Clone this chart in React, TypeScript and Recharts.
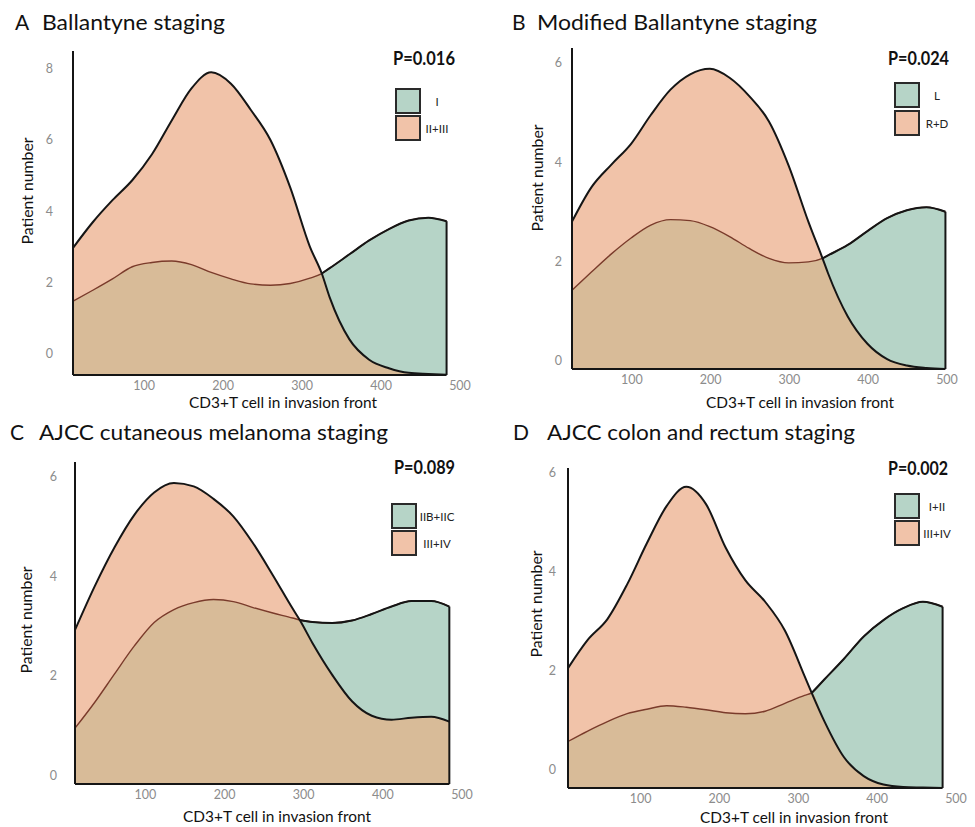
import { ComposedChart, Area, Line, XAxis, YAxis, ReferenceLine } from 'recharts'

const TEAL = '#b6d4c7'
const PEACH = '#f1c3a9'
const TAN = '#d8bb98'
const BROWN = '#7a3b2b'
const INK = '#151515'
const TICK_GRAY = '#8c8c8c'
const FONT = 'Lato, "Open Sans", sans-serif'

const X_TICKS = [100, 200, 300, 400, 500]

// A - Ballantyne staging
const xA = [10, 35, 60, 85, 110, 135, 160, 185, 210, 235, 260, 285, 310, 325, 335, 360, 385, 410, 435, 460, 483]
const peachA = [2.97, 3.69, 4.31, 4.87, 5.6, 6.55, 7.45, 7.9, 7.58, 6.85, 6.0, 4.67, 3.0, 2.25, 1.58, 0.4, -0.17, -0.41, -0.54, -0.57, -0.59]
const tealA = [1.47, 1.78, 2.1, 2.44, 2.56, 2.6, 2.5, 2.28, 2.1, 1.96, 1.92, 1.97, 2.12, 2.25, 2.4, 2.79, 3.18, 3.5, 3.74, 3.82, 3.72]
const crossA = 325
const yTicksA = [0, 2, 4, 6, 8]

// B - Modified Ballantyne staging
const xB = [24, 49, 74, 99, 124, 149, 174, 199, 224, 249, 274, 299, 324, 342, 349, 374, 399, 424, 449, 474, 498]
const peachB = [2.8, 3.5, 3.95, 4.37, 4.95, 5.46, 5.77, 5.88, 5.7, 5.33, 4.82, 3.93, 2.8, 2.06, 1.76, 0.89, 0.34, 0.03, -0.1, -0.15, -0.17]
const tealB = [1.42, 1.79, 2.15, 2.47, 2.73, 2.84, 2.82, 2.7, 2.5, 2.26, 2.06, 1.97, 1.99, 2.06, 2.12, 2.33, 2.61, 2.87, 3.03, 3.09, 3.0]
const crossB = 342
const yTicksB = [0, 2, 4, 6]

// C - AJCC cutaneous melanoma staging
const xC = [11, 36, 61, 86, 111, 136, 161, 186, 211, 236, 261, 286, 295, 311, 336, 361, 386, 411, 436, 461, 484]
const peachC = [2.92, 3.8, 4.58, 5.23, 5.68, 5.87, 5.8, 5.55, 5.2, 4.66, 4.02, 3.35, 3.12, 2.66, 2.02, 1.49, 1.2, 1.12, 1.16, 1.18, 1.08]
const tealC = [0.95, 1.47, 2.04, 2.6, 3.07, 3.33, 3.47, 3.53, 3.49, 3.37, 3.26, 3.16, 3.12, 3.08, 3.06, 3.11, 3.24, 3.39, 3.5, 3.5, 3.39]
const crossC = 295
const yTicksC = [0, 2, 4, 6]

// D - AJCC colon and rectum staging
const xD = [8, 33, 58, 83, 108, 133, 158, 183, 208, 233, 258, 283, 308, 317, 333, 358, 383, 408, 433, 458, 483]
const peachD = [2.05, 2.62, 3.04, 3.74, 4.57, 5.32, 5.71, 5.36, 4.48, 3.82, 3.39, 2.81, 1.89, 1.55, 0.98, 0.25, -0.13, -0.3, -0.35, -0.36, -0.37]
const tealD = [0.57, 0.78, 0.97, 1.13, 1.22, 1.29, 1.26, 1.21, 1.15, 1.13, 1.18, 1.34, 1.5, 1.55, 1.82, 2.24, 2.69, 3.02, 3.26, 3.39, 3.29]
const crossD = 317
const yTicksD = [0, 2, 4, 6]

const buildRows = (xs: number[], peach: number[], teal: number[], cross: number) =>
  xs.map((x, i) => ({
    x,
    peach: peach[i],
    teal: teal[i],
    // region where both densities overlap gets the mixed colour
    overlap: Math.min(peach[i], teal[i]),
    tealTop: x >= cross ? teal[i] : null,
  }))

type PanelProps = {
  left: number
  top: number
  width: number
  height: number
  marginTop: number
  marginRight: number
  yWidth: number
  xHeight: number
  xDomain: [number, number]
  yDomain: [number, number]
  yTicks: number[]
  yTickGap: number
  xs: number[]
  peach: number[]
  teal: number[]
  cross: number
}

function Panel(p: PanelProps) {
  const rows = buildRows(p.xs, p.peach, p.teal, p.cross)
  const yMin = p.yDomain[0]
  const xFirst = p.xs[0]
  const xLast = p.xs[p.xs.length - 1]
  const tealLast = p.teal[p.teal.length - 1]
  const tick = { fontSize: 12.5, fill: TICK_GRAY, fontFamily: FONT }

  return (
    <div style={{ position: 'absolute', left: p.left, top: p.top }}>
      <ComposedChart
        width={p.width}
        height={p.height}
        data={rows}
        margin={{ top: p.marginTop, right: p.marginRight, left: 0, bottom: 0 }}
      >
        <XAxis
          dataKey="x"
          type="number"
          domain={p.xDomain}
          ticks={X_TICKS}
          allowDataOverflow
          axisLine={false}
          tickLine={false}
          tickSize={0}
          tickMargin={6}
          height={p.xHeight}
          tick={tick}
        />
        <YAxis
          type="number"
          domain={p.yDomain}
          ticks={p.yTicks}
          allowDataOverflow
          width={p.yWidth}
          axisLine={{ stroke: INK, strokeWidth: 2 }}
          tickLine={false}
          tickSize={0}
          tickMargin={p.yTickGap}
          tick={tick}
        />
        <Area type="monotone" dataKey="teal" baseValue={yMin} fill={TEAL} fillOpacity={1} stroke="none" isAnimationActive={false} />
        <Area type="monotone" dataKey="peach" baseValue={yMin} fill={PEACH} fillOpacity={1} stroke="none" isAnimationActive={false} />
        <Area type="monotone" dataKey="overlap" baseValue={yMin} fill={TAN} fillOpacity={1} stroke="none" isAnimationActive={false} />
        <Line type="monotone" dataKey="teal" stroke={BROWN} strokeWidth={1.4} dot={false} isAnimationActive={false} />
        <Line type="monotone" dataKey="tealTop" stroke={INK} strokeWidth={2} dot={false} connectNulls={false} isAnimationActive={false} />
        <Line type="monotone" dataKey="peach" stroke={INK} strokeWidth={2} dot={false} isAnimationActive={false} />
        <ReferenceLine
          segment={[{ x: xFirst, y: yMin }, { x: xLast, y: yMin }]}
          stroke={INK}
          strokeWidth={2}
          ifOverflow="visible"
        />
        <ReferenceLine
          segment={[{ x: xLast, y: yMin }, { x: xLast, y: tealLast }]}
          stroke={INK}
          strokeWidth={2}
          ifOverflow="visible"
        />
      </ComposedChart>
    </div>
  )
}

type Annot = {
  letter: string
  letterX: number
  title: string
  titleX: number
  titleLen: number
  baseY: number
  yLabelX: number
  yLabelY: number
  xLabelX: number
  xLabelY: number
  pText: string
  pX: number
  pY: number
  pLen: number
  boxX: number
  boxY1: number
  boxY2: number
  labelX: number
  labels: [string, string]
}

const annots: Annot[] = [
  {
    letter: 'A', letterX: 15, title: 'Ballantyne staging', titleX: 42, titleLen: 183, baseY: 30,
    yLabelX: 33, yLabelY: 191, xLabelX: 283, xLabelY: 408,
    pText: 'P=0.016', pX: 393, pY: 65, pLen: 62,
    boxX: 396, boxY1: 89, boxY2: 116, labelX: 437, labels: ['I', 'II+III'],
  },
  {
    letter: 'B', letterX: 512, title: 'Modified Ballantyne staging', titleX: 537, titleLen: 280, baseY: 30,
    yLabelX: 543, yLabelY: 178, xLabelX: 800, xLabelY: 408,
    pText: 'P=0.024', pX: 888, pY: 65, pLen: 61,
    boxX: 895, boxY1: 83, boxY2: 111, labelX: 937, labels: ['L', 'R+D'],
  },
  {
    letter: 'C', letterX: 10, title: 'AJCC cutaneous melanoma staging', titleX: 39, titleLen: 349, baseY: 440,
    yLabelX: 32, yLabelY: 620, xLabelX: 277, xLabelY: 822,
    pText: 'P=0.089', pX: 394, pY: 474, pLen: 61,
    boxX: 392, boxY1: 504, boxY2: 531, labelX: 437, labels: ['IIB+IIC', 'III+IV'],
  },
  {
    letter: 'D', letterX: 513, title: 'AJCC colon and rectum staging', titleX: 547, titleLen: 308, baseY: 440,
    yLabelX: 542, yLabelY: 604, xLabelX: 794, xLabelY: 823,
    pText: 'P=0.002', pX: 888, pY: 475, pLen: 60,
    boxX: 895, boxY1: 494, boxY2: 521, labelX: 937, labels: ['I+II', 'III+IV'],
  },
]

function Overlay() {
  return (
    <svg
      width={975}
      height={827}
      style={{ position: 'absolute', left: 0, top: 0, pointerEvents: 'none' }}
      fontFamily={FONT}
    >
      {annots.map((a) => (
        <g key={a.letter}>
          <text x={a.letterX} y={a.baseY} fontSize={21} fill="#111">{a.letter}</text>
          <text x={a.titleX} y={a.baseY} fontSize={21} fill="#111" textLength={a.titleLen} lengthAdjust="spacingAndGlyphs">
            {a.title}
          </text>
          <text
            x={a.yLabelX}
            y={a.yLabelY}
            fontSize={15.5}
            fill="#111"
            textAnchor="middle"
            textLength={107}
            lengthAdjust="spacingAndGlyphs"
            transform={`rotate(-90 ${a.yLabelX} ${a.yLabelY})`}
          >
            Patient number
          </text>
          <text x={a.xLabelX} y={a.xLabelY} fontSize={16} fill="#111" textAnchor="middle" textLength={188} lengthAdjust="spacingAndGlyphs">
            CD3+T cell in invasion front
          </text>
          <text x={a.pX} y={a.pY} fontSize={18} fontWeight={700} fill="#111" textLength={a.pLen} lengthAdjust="spacingAndGlyphs">
            {a.pText}
          </text>
          <rect x={a.boxX} y={a.boxY1} width={24} height={24} fill={TEAL} stroke="#2a2a2a" strokeWidth={2} />
          <rect x={a.boxX} y={a.boxY2} width={24} height={24} fill={PEACH} stroke="#2a2a2a" strokeWidth={2} />
          <text x={a.labelX} y={a.boxY1 + 12} fontSize={11.5} fill="#222" textAnchor="middle" dominantBaseline="central">
            {a.labels[0]}
          </text>
          <text x={a.labelX} y={a.boxY2 + 12} fontSize={11.5} fill="#222" textAnchor="middle" dominantBaseline="central">
            {a.labels[1]}
          </text>
        </g>
      ))}
    </svg>
  )
}

export default function App() {
  return (
    <div style={{ position: 'relative', width: 975, height: 827, background: '#fff', overflow: 'hidden' }}>
      <style>{'body{margin:0}'}</style>
      <Panel
        left={0} top={0} width={490} height={420} marginTop={51} marginRight={30}
        yWidth={73} xHeight={45} xDomain={[10, 500]} yDomain={[-0.6, 8.5]} yTicks={yTicksA} yTickGap={20}
        xs={xA} peach={peachA} teal={tealA} cross={crossA}
      />
      <Panel
        left={490} top={0} width={485} height={420} marginTop={48} marginRight={28}
        yWidth={82} xHeight={51} xDomain={[24, 500]} yDomain={[-0.17, 6.3]} yTicks={yTicksB} yTickGap={10}
        xs={xB} peach={peachB} teal={tealB} cross={crossB}
      />
      <Panel
        left={0} top={410} width={490} height={417} marginTop={52} marginRight={28}
        yWidth={75} xHeight={43} xDomain={[11, 500]} yDomain={[-0.17, 6.29]} yTicks={yTicksC} yTickGap={18}
        xs={xC} peach={peachC} teal={tealC} cross={crossC}
      />
      <Panel
        left={490} top={410} width={485} height={417} marginTop={58} marginRight={19}
        yWidth={78} xHeight={39} xDomain={[8, 500]} yDomain={[-0.37, 6.09]} yTicks={yTicksD} yTickGap={12}
        xs={xD} peach={peachD} teal={tealD} cross={crossD}
      />
      <Overlay />
    </div>
  )
}
